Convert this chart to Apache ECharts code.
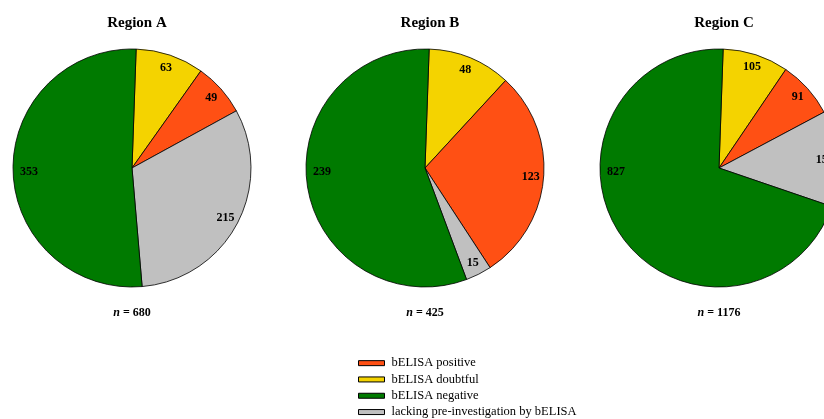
<!DOCTYPE html>
<html>
<head>
<meta charset="utf-8">
<script src="https://cdn.jsdelivr.net/npm/echarts@6/dist/echarts.min.js"></script>
<style>
  html, body { margin: 0; padding: 0; background: #fff; }
  #chart { width: 824px; height: 419px; }
</style>
</head>
<body>
<div id="chart"></div>
<script>
// Categories in drawing order (clockwise from the top)
const categories = ['bELISA doubtful', 'bELISA positive', 'lacking pre-investigation by bELISA', 'bELISA negative'];
// Legend order
const legendOrder = ['bELISA positive', 'bELISA doubtful', 'bELISA negative', 'lacking pre-investigation by bELISA'];
const regions = ['Region A', 'Region B', 'Region C'];
const regionA = [63, 49, 215, 353];
const regionB = [48, 123, 15, 239];
const regionC = [105, 91, 153, 827];
const totals = [680, 425, 1176];

const colors = {
  'bELISA doubtful': '#F4D300',
  'bELISA positive': '#FF5014',
  'lacking pre-investigation by bELISA': '#C0C0C0',
  'bELISA negative': '#007A00'
};

const FONT = '"Liberation Serif", "DejaVu Serif", serif';
const centersX = [132, 425, 719];
const centerY = 168;
const R = 119;
const LABEL_R = 103;
const values = [regionA, regionB, regionC];

const series = [];
values.forEach((vals, i) => {
  const cx = centersX[i];
  const data = categories.map((c, k) => ({
    name: c,
    value: vals[k],
    itemStyle: { color: colors[c] }
  }));
  // Filled slices with thin black outlines
  series.push({
    type: 'pie',
    center: [cx, centerY],
    radius: [0, R],
    startAngle: 88,
    clockwise: true,
    animation: false,
    silent: true,
    label: { show: false },
    labelLine: { show: false },
    itemStyle: { borderColor: '#000', borderWidth: 0.8 },
    data: data
  });
  // Transparent ring carrying the count labels near the rim
  series.push({
    type: 'pie',
    center: [cx, centerY],
    radius: [2 * LABEL_R - R, R],
    startAngle: 88,
    clockwise: true,
    animation: false,
    silent: true,
    legendHoverLink: false,
    avoidLabelOverlap: false,
    label: {
      show: true,
      position: 'inside',
      formatter: '{c}',
      fontFamily: FONT,
      fontWeight: 'bold',
      fontSize: 12,
      color: '#000'
    },
    // the large "negative" slice keeps its count on the left side of the pie
    labelLayout: function (p) {
      if (p.dataIndex === 3) {
        return { x: cx - LABEL_R, y: centerY + 4, align: 'center', verticalAlign: 'middle' };
      }
      return {};
    },
    labelLine: { show: false },
    itemStyle: { color: 'rgba(0,0,0,0)', borderWidth: 0 },
    data: categories.map((c, k) => ({ name: c + ' ', value: vals[k] }))
  });
});

const titles = regions.map((r, i) => ({
  text: r,
  left: centersX[i],
  top: 11,
  textAlign: 'center',
  textStyle: { fontFamily: FONT, fontWeight: 'bold', fontSize: 15, color: '#000' }
}));

const nLabels = totals.map((t, i) => ({
  type: 'text',
  x: centersX[i],
  y: 313,
  style: {
    text: '{i|n} = ' + t,
    font: 'bold 12px ' + FONT,
    fill: '#000',
    align: 'center',
    verticalAlign: 'middle',
    rich: {
      i: { fontStyle: 'italic', fontWeight: 'bold', fontSize: 12, fontFamily: FONT }
    }
  }
}));

const chart = echarts.init(document.getElementById('chart'), null, { renderer: 'canvas' });
chart.setOption({
  backgroundColor: '#fff',
  animation: false,
  title: titles,
  legend: {
    data: legendOrder,
    orient: 'vertical',
    left: 358,
    top: 356,
    height: 80,
    padding: 0,
    itemWidth: 26,
    itemHeight: 5,
    itemGap: 2,
    icon: 'rect',
    selectedMode: false,
    itemStyle: { borderColor: '#000', borderWidth: 1 },
    textStyle: { fontFamily: FONT, fontSize: 12.5, lineHeight: 14.3, color: '#000', padding: [0, 0, 0, 2] }
  },
  series: series,
  graphic: nLabels
});
</script>
</body>
</html>
